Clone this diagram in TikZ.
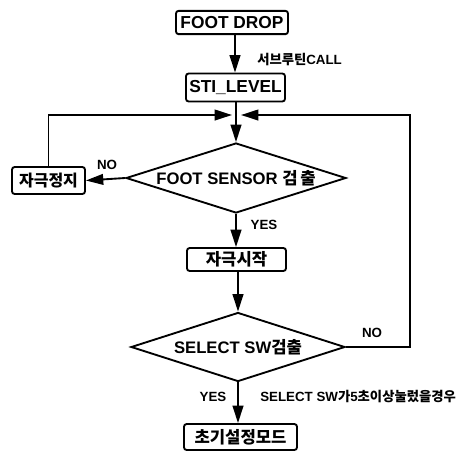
\documentclass[tikz,border=0pt]{standalone}
\usepackage{fontspec}
\setmainfont{Liberation Sans}
\newfontfamily\kr{Noto Sans CJK KR}
\usetikzlibrary{arrows.meta,shapes.geometric}
\begin{document}
\begin{tikzpicture}[x=0.75pt,y=-0.75pt,
  box/.style={draw,line width=1.4pt,rounded corners=2pt,inner sep=0pt,font=\bfseries\fontsize{12.5}{14}\selectfont},
  dia/.style={draw,diamond,aspect=3.1,line width=1.4pt,inner sep=0pt,font=\bfseries\fontsize{12.5}{14}\selectfont},
  arr/.style={line width=1.4pt,-{Triangle[length=13pt,width=8pt]}},
  lbl/.style={inner sep=0pt,font=\bfseries\fontsize{10}{12}\selectfont},
  note/.style={inner sep=0pt,anchor=west,font=\bfseries\fontsize{10}{12}\selectfont},
  ]
\useasboundingbox (0,0) rectangle (464,455);
% nodes
\node[box,minimum width=84pt,minimum height=17.5pt,font=\bfseries\fontsize{13}{15}\selectfont] (fd) at (232,22.5) {FOOT DROP};
\node[box,minimum width=74.25pt,minimum height=21pt,font=\bfseries\fontsize{13}{15}\selectfont] (sti) at (235.5,87.5) {STI\_LEVEL};
\node[dia,minimum width=165pt,minimum height=52.5pt] (d1) at (236,178) {FOOT SENSOR {\kr 검\hspace{2pt}출}};
\node[box,minimum width=54.75pt,minimum height=20.25pt,font=\bfseries\fontsize{12}{14}\selectfont] (stop) at (48.5,180.5) {\kr 자극정지};
\node[box,minimum width=74.25pt,minimum height=17.25pt] (start) at (236.5,259.5) {\kr 자극시작};
\node[dia,minimum width=160.5pt,minimum height=51.75pt] (d2) at (238,347) {SELECT SW{\kr 검출}};
\node[box,minimum width=84.75pt,minimum height=19.5pt] (init) at (240.5,437) {\kr 초기설정모드};
% coordinates
\coordinate (ax) at (235,0);
\coordinate (j) at (236,115);
\coordinate (jl) at (232,115);
\coordinate (jr) at (241,115);
\coordinate (rb) at (410,347);
\coordinate (rt) at (410,115);
% connectors
\draw[arr] (fd.south -| ax) -- (sti.north -| ax);
\draw[arr] (sti.south -| d1.north) -- (d1.north);
\draw[arr] (stop.north) |- (jl);
\draw[arr] (d2.east) -- (rb) -- (rt) -- (jr);
\draw[arr] (d1.west) -- (stop.east);
\draw[arr] (d1.south) -- (start.north -| d1.south);
\draw[arr] (start.south -| d2.north) -- (d2.north);
\draw[arr] (d2.south) -- (init.north -| d2.south);
% labels
\node[note] (call) at (257,60) {{\kr 서브루틴}CALL};
\node[lbl] (no1) at (107,165) {NO};
\node[lbl] (yes1) at (264,225) {YES};
\node[lbl] (no2) at (372,333) {NO};
\node[lbl] (yes2) at (213,397) {YES};
\node[note] (cond) at (260,397) {SELECT SW{\kr 가}5{\kr 초이상눌렀을경우}};
\end{tikzpicture}
\end{document}
